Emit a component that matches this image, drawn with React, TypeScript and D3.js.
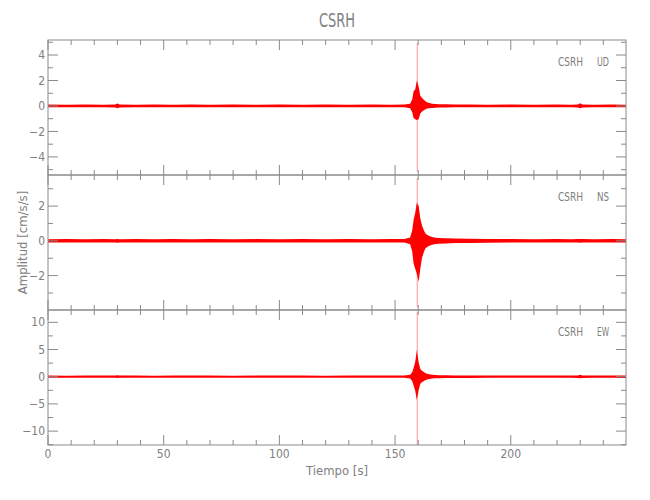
import React from 'react';
import * as d3 from 'd3';

// station + components
const station = 'CSRH';
const components = ['UD', 'NS', 'EW'];

// envelope sample times (s)
const envTime = [
  0, 8, 16, 24, 29, 30, 31, 38, 46, 54, 62, 70, 80, 90, 100, 110, 120, 130, 140, 148,
  154, 156.5, 157.4, 158.0, 158.7, 159.4, 160.2, 160.9, 161.6, 162.3, 163.0, 163.8, 164.8, 166.0, 167.5, 169.0,
  172, 176, 182, 190, 200, 210, 220, 226, 229, 230, 231, 236, 244, 249.8,
];

// envelope (max / min), cm/s/s
const udUpper = [
  0.11, 0.1, 0.12, 0.1, 0.12, 0.2, 0.12, 0.1, 0.11, 0.1, 0.11, 0.1, 0.11, 0.1, 0.11, 0.1, 0.11, 0.1, 0.11, 0.1,
  0.11, 0.18, 0.5, 1.15, 1.3, 2.0, 1.5, 0.8, 0.65, 0.5, 0.4, 0.3, 0.24, 0.18, 0.15, 0.14,
  0.13, 0.12, 0.11, 0.1, 0.11, 0.1, 0.11, 0.1, 0.12, 0.22, 0.12, 0.1, 0.11, 0.1,
];
const udLower = [
  -0.1, -0.11, -0.1, -0.11, -0.12, -0.17, -0.12, -0.1, -0.11, -0.1, -0.1, -0.11, -0.1, -0.11, -0.1, -0.11, -0.1, -0.11, -0.1, -0.11,
  -0.1, -0.18, -0.5, -0.94, -1.05, -1.1, -1.05, -0.6, -0.45, -0.35, -0.28, -0.2, -0.17, -0.15, -0.13, -0.12,
  -0.12, -0.11, -0.1, -0.11, -0.1, -0.11, -0.1, -0.11, -0.12, -0.18, -0.12, -0.1, -0.11, -0.1,
];
const nsUpper = [
  0.09, 0.1, 0.09, 0.1, 0.09, 0.11, 0.09, 0.1, 0.09, 0.1, 0.09, 0.1, 0.09, 0.1, 0.09, 0.1, 0.09, 0.1, 0.09, 0.1,
  0.1, 0.2, 0.6, 1.2, 1.6, 2.2, 2.0, 1.3, 0.9, 0.65, 0.45, 0.35, 0.28, 0.22, 0.18, 0.16,
  0.15, 0.14, 0.12, 0.11, 0.1, 0.09, 0.1, 0.09, 0.1, 0.11, 0.1, 0.09, 0.1, 0.09,
];
const nsLower = [
  -0.09, -0.09, -0.1, -0.09, -0.1, -0.11, -0.09, -0.09, -0.1, -0.09, -0.1, -0.09, -0.1, -0.09, -0.1, -0.09, -0.1, -0.09, -0.1, -0.09,
  -0.1, -0.2, -0.6, -1.3, -1.6, -1.9, -2.35, -1.6, -1.0, -0.7, -0.45, -0.35, -0.28, -0.22, -0.18, -0.16,
  -0.15, -0.13, -0.12, -0.11, -0.1, -0.09, -0.1, -0.09, -0.1, -0.11, -0.1, -0.09, -0.09, -0.1,
];
const ewUpper = [
  0.2, 0.19, 0.21, 0.2, 0.21, 0.25, 0.21, 0.2, 0.19, 0.2, 0.21, 0.2, 0.19, 0.2, 0.21, 0.2, 0.19, 0.2, 0.21, 0.2,
  0.21, 0.35, 0.8, 1.6, 2.7, 4.9, 2.6, 1.4, 1.1, 0.9, 0.7, 0.55, 0.45, 0.38, 0.32, 0.28,
  0.26, 0.24, 0.22, 0.21, 0.2, 0.2, 0.21, 0.2, 0.24, 0.35, 0.24, 0.2, 0.21, 0.22,
];
const ewLower = [
  -0.2, -0.21, -0.19, -0.2, -0.21, -0.25, -0.2, -0.21, -0.2, -0.19, -0.2, -0.21, -0.2, -0.19, -0.2, -0.21, -0.2, -0.19, -0.2, -0.21,
  -0.2, -0.35, -0.8, -1.6, -2.6, -4.3, -2.5, -1.3, -1.0, -0.85, -0.65, -0.5, -0.42, -0.35, -0.3, -0.26,
  -0.25, -0.23, -0.22, -0.21, -0.2, -0.2, -0.21, -0.2, -0.24, -0.3, -0.24, -0.2, -0.21, -0.22,
];
const uppers = [udUpper, nsUpper, ewUpper];
const lowers = [udLower, nsLower, ewLower];

// the single-sample peak at the arrival
const spikeTime = 159.6;
const spikeMax = [4.95, 3.6, 11.9];
const spikeMin = [-5.15, -3.81, -12.55];

// axes
const timeDomain = [0, 249.8];
const yDomains = [
  [-5.42, 5.18],
  [-3.98, 3.79],
  [-12.55, 12.26],
];
const minorStep = [1, 1, 2.5];
const majorStep = [2, 2, 5];

const W = 650;
const H = 500;
const left = 48;
const right = 626;
const top = 40;
const panelH = 135;

const axisColor = '#8a8a8a';
const textColor = '#808080';
const traceColor = '#ff0000';
const font = "'Liberation Sans Narrow', 'DejaVu Sans Condensed', 'Arial Narrow', sans-serif";

const stepTicks = (d: number[], step: number) =>
  d3.range(Math.ceil(d[0] / step) * step, d[1] + 1e-9, step);

const isMajor = (v: number, step: number) => Math.abs(v / step - Math.round(v / step)) < 1e-6;

export default function App() {
  const x = d3.scaleLinear().domain(timeDomain).range([left, right]);
  const xTicks = x.ticks(25);

  return (
    <svg
      width={W}
      height={H}
      style={{ position: 'absolute', left: 0, top: 0, background: '#fff' }}
      fontFamily={font}
    >
      <text x={(left + right) / 2} y={27} textAnchor="middle" fontSize={20} fill={textColor}
        textLength={36} lengthAdjust="spacingAndGlyphs">
        {station}
      </text>

      {components.map((comp, k) => {
        const y0 = top + k * panelH;
        const y = d3.scaleLinear().domain(yDomains[k]).range([y0 + panelH, y0]);
        const area = d3
          .area<number>()
          .x((_, i) => x(envTime[i]))
          .y0((_, i) => y(lowers[k][i]))
          .y1((_, i) => y(uppers[k][i]));
        const yt = stepTicks(yDomains[k], minorStep[k]);
        return (
          <g key={comp}>
            {/* trace */}
            <path d={area(envTime) || ''} fill={traceColor} stroke="none" />
            <line x1={x(spikeTime)} x2={x(spikeTime)} y1={y(spikeMax[k])} y2={y(spikeMin[k])}
              stroke={traceColor} strokeOpacity={0.35} strokeWidth={1.2} />

            {/* frame */}
            <rect x={left} y={y0} width={right - left} height={panelH} fill="none" stroke={axisColor} strokeWidth={1} />

            {xTicks.map((t) => {
              const len = isMajor(t, 50) ? 10 : 5;
              return (
                <g key={t} stroke={axisColor}>
                  <line x1={x(t)} x2={x(t)} y1={y0} y2={y0 + len} />
                  <line x1={x(t)} x2={x(t)} y1={y0 + panelH} y2={y0 + panelH - len} />
                </g>
              );
            })}
            {yt.map((v) => {
              const len = isMajor(v, majorStep[k]) ? 10 : 5;
              return (
                <g key={v} stroke={axisColor}>
                  <line x1={left} x2={left + len} y1={y(v)} y2={y(v)} />
                  <line x1={right} x2={right - len} y1={y(v)} y2={y(v)} />
                </g>
              );
            })}
            {yt.filter((v) => isMajor(v, majorStep[k])).map((v) => (
              <text key={v} x={left - 3} y={y(v)} dy="0.35em" textAnchor="end" fontSize={12} fill={textColor}>
                {v < 0 ? '\u2212' + Math.abs(v) : String(v)}
              </text>
            ))}

            <text x={558} y={y0 + 26} fontSize={13} fill={textColor}
              textLength={25} lengthAdjust="spacingAndGlyphs">
              {station}
            </text>
            <text x={597} y={y0 + 26} fontSize={13} fill={textColor}
              textLength={12} lengthAdjust="spacingAndGlyphs">
              {comp}
            </text>
          </g>
        );
      })}

      {xTicks.filter((t) => isMajor(t, 50)).map((t) => (
        <text key={t} x={x(t)} y={top + 3 * panelH + 13} textAnchor="middle" fontSize={12} fill={textColor}>
          {t}
        </text>
      ))}
      <text x={(left + right) / 2} y={top + 3 * panelH + 30} textAnchor="middle" fontSize={13} fill={textColor}>
        Tiempo [s]
      </text>
      <text transform={`translate(27, ${top + 1.5 * panelH}) rotate(-90)`} textAnchor="middle" fontSize={13} fill={textColor}>
        Amplitud [cm/s/s]
      </text>
    </svg>
  );
}
